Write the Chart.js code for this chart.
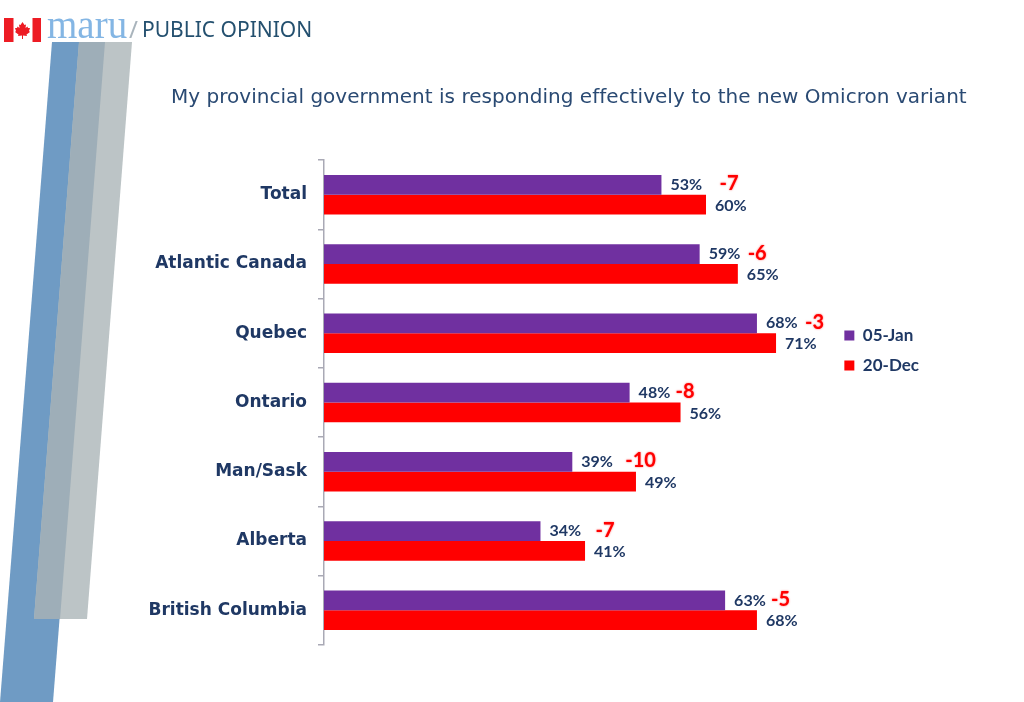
<!DOCTYPE html>
<html>
<head>
<meta charset="utf-8">
<title>Omicron response</title>
<script src="https://cdn.jsdelivr.net/npm/chart.js@4"></script>
<style>
  html, body { margin: 0; padding: 0; background: #fff; }
  #wrap { position: relative; width: 1024px; height: 702px; }
</style>
</head>
<body>
<div id="wrap"><canvas id="myChart" width="1024" height="702"></canvas></div>
<script>
const categories = ['Total', 'Atlantic Canada', 'Quebec', 'Ontario', 'Man/Sask', 'Alberta', 'British Columbia'];
const jan05 = [53, 59, 68, 48, 39, 34, 63];
const dec20 = [60, 65, 71, 56, 49, 41, 68];
const changes = [-7, -6, -3, -8, -10, -7, -5];
const seriesNames = ['05-Jan', '20-Dec'];

const navy = '#1f3864';

// how far the red change labels sit past the end of the purple bar
const changeGaps = [58, 48, 48, 46, 53, 55, 46];

function poly(ctx, color, pts) {
  ctx.fillStyle = color;
  ctx.beginPath();
  pts.forEach((p, i) => (i ? ctx.lineTo(p[0], p[1]) : ctx.moveTo(p[0], p[1])));
  ctx.closePath();
  ctx.fill();
}

// slanted stripes, flag, logo and the question text
const slidePlugin = {
  id: 'slide',
  beforeDraw(chart) {
    const ctx = chart.ctx;
    ctx.save();
    poly(ctx, '#6f9bc4', [[52, 42], [105, 42], [53, 702], [0, 702]]);
    poly(ctx, '#bcc4c6', [[79, 42], [132, 42], [87, 619], [34, 619]]);
    poly(ctx, '#9eaeb8', [[79, 42], [105, 42], [60, 619], [34, 619]]);

    ctx.fillStyle = '#ed1c24';
    ctx.fillRect(4, 18, 9.5, 24);
    ctx.fillRect(32.5, 18, 8.5, 24);
    poly(ctx, '#ed1c24', [
      [22.5, 22], [24.5, 25], [26, 24.5], [25.5, 28], [27.5, 26.5], [28, 28], [30, 28], [29, 31],
      [30, 32], [26.5, 34.5], [27, 36], [23, 35.5], [23, 39], [22, 39], [22, 35.5], [18, 36],
      [18.5, 34.5], [15, 32], [16, 31], [15, 28], [17, 28], [17.5, 26.5], [19.5, 28], [19, 24.5], [20.5, 25]
    ]);

    ctx.textBaseline = 'alphabetic';
    ctx.textAlign = 'left';
    ctx.fillStyle = '#84b6e4';
    ctx.font = '39px "Liberation Serif"';
    ctx.fillText('maru', 47, 38);
    ctx.fillStyle = '#a9b4bc';
    ctx.font = '24px "Noto Sans"';
    ctx.fillText('/', 129, 38);
    ctx.fillStyle = '#24506f';
    ctx.font = '21px "Noto Sans"';
    ctx.fillText('PUBLIC OPINION', 142, 37);

    ctx.fillStyle = '#2a4a73';
    ctx.font = '20px "DejaVu Sans"';
    ctx.letterSpacing = '0.03px';
    ctx.fillText('My provincial government is responding effectively to the new Omicron variant', 171, 103);
    ctx.restore();
  },
  // the legend sits a little above the middle of the plot
  afterLayout(chart) {
    chart.legend.top -= 52;
    chart.legend.bottom -= 52;
    chart.legend.left -= 2;
    chart.legend.right -= 2;
  }
};

// value labels and the change between the two waves
const barLabelPlugin = {
  id: 'barLabels',
  afterDatasetsDraw(chart) {
    const ctx = chart.ctx;
    ctx.save();
    ctx.textBaseline = 'middle';
    ctx.textAlign = 'left';
    chart.data.datasets.forEach((dataset, d) => {
      chart.getDatasetMeta(d).data.forEach((bar, i) => {
        ctx.fillStyle = navy;
        ctx.font = 'bold 16px Lato';
        ctx.fillText(dataset.data[i] + '%', bar.x + 9, bar.y + (d === 0 ? 0 : 1));
        if (d === 0) {
          ctx.fillStyle = '#ff0000';
          ctx.font = 'bold 20px Lato';
          ctx.shadowColor = 'rgba(255, 0, 0, 0.6)';
          ctx.shadowBlur = 2;
          ctx.fillText(String(changes[i]), bar.x + changeGaps[i], bar.y - 1);
          ctx.shadowBlur = 0;
        }
      });
    });
    ctx.restore();
  }
};

const ctx = document.getElementById('myChart').getContext('2d');
const myChart = new Chart(ctx, {
  type: 'bar',
  data: {
    labels: categories,
    datasets: [
      { label: seriesNames[0], data: jan05, backgroundColor: '#7030a0' },
      { label: seriesNames[1], data: dec20, backgroundColor: '#ff0000' },
    ],
  },
  options: {
    indexAxis: 'y',
    responsive: false,
    animation: false,
    layout: { padding: { top: 160, bottom: 57, left: 0, right: 93 } },
    datasets: { bar: { barPercentage: 1, categoryPercentage: 0.57 } },
    scales: {
      x: { display: false, min: 0, max: 80 },
      y: {
        afterFit(scale) { scale.width = 324; },
        border: { color: '#a9a9b5', width: 1.5 },
        grid: { offset: true, drawOnChartArea: false, tickLength: 6, color: '#a9a9b5', lineWidth: 1.5 },
        ticks: { color: navy, padding: 11, font: { family: 'DejaVu Sans', size: 17, weight: 'bold' } },
      },
    },
    plugins: {
      tooltip: { enabled: false },
      legend: {
        position: 'right',
        labels: {
          boxWidth: 10,
          boxHeight: 10,
          padding: 13,
          color: navy,
          font: { family: 'Lato', size: 17, weight: 'bold' },
        },
      },
    },
  },
  plugins: [slidePlugin, barLabelPlugin],
});
</script>
</body>
</html>
